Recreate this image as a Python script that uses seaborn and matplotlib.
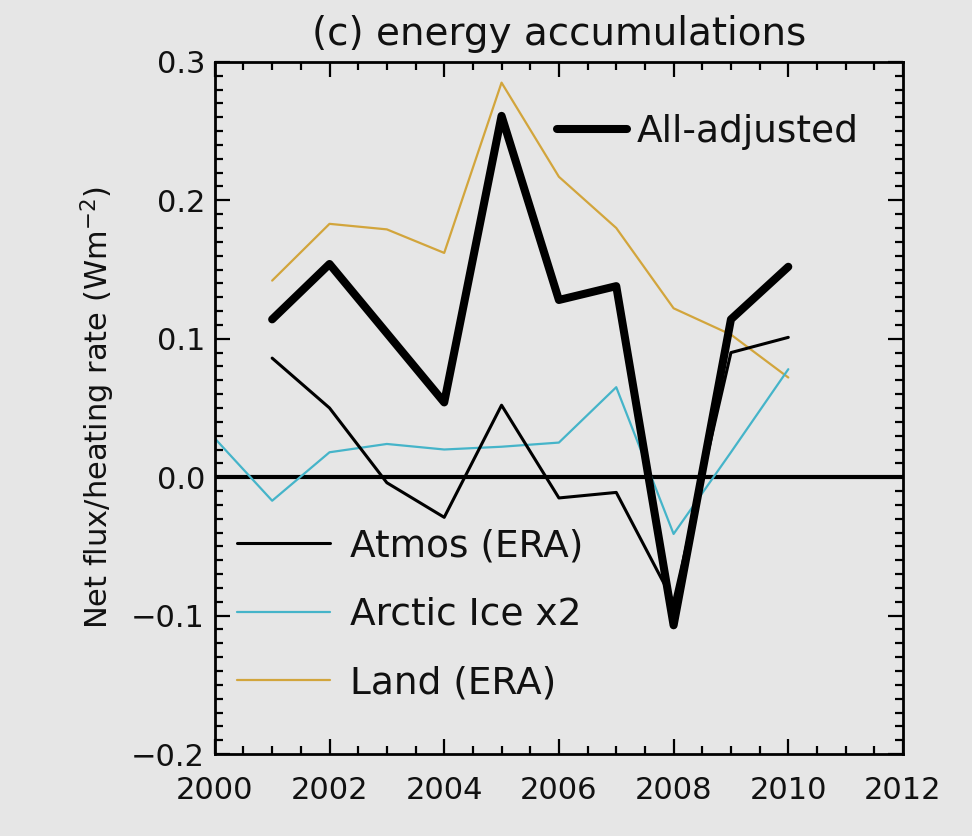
import numpy as np
import pandas as pd
import matplotlib
matplotlib.use("Agg")
import matplotlib.pyplot as plt
import seaborn as sns
from matplotlib.ticker import MultipleLocator

# ---- data ----
years = [2001, 2002, 2003, 2004, 2005, 2006, 2007, 2008, 2009, 2010]
all_adjusted = [0.114, 0.154, 0.104, 0.054, 0.261, 0.128, 0.138, -0.107, 0.114, 0.152]
atmos_era = [0.086, 0.050, -0.004, -0.029, 0.052, -0.015, -0.011, -0.090, 0.090, 0.101]
ice_years = [2000, 2001, 2002, 2003, 2004, 2005, 2006, 2007, 2008, 2009, 2010]
arctic_ice_x2 = [0.028, -0.017, 0.018, 0.024, 0.020, 0.022, 0.025, 0.065, -0.041, 0.018, 0.078]
land_era = [0.142, 0.183, 0.179, 0.162, 0.285, 0.217, 0.180, 0.122, 0.103, 0.072]

xticks = [2000, 2002, 2004, 2006, 2008, 2010, 2012]
yticks = [-0.2, -0.1, 0.0, 0.1, 0.2, 0.3]
ytick_labels = ["\u22120.2", "\u22120.1", "0.0", "0.1", "0.2", "0.3"]

BG = "#e6e6e6"
CYAN = "#45b4c9"
GOLD = "#d2a53c"
TXT = "#111111"

sns.set_theme(style="ticks")
plt.rcParams["font.family"] = ["DejaVu Sans"]
plt.rcParams["text.color"] = TXT
plt.rcParams["axes.labelcolor"] = TXT

fig = plt.figure(figsize=(9.72, 8.36), dpi=100, facecolor=BG)
ax = fig.add_axes([0.221, 0.098, 0.708, 0.828])
ax.set_facecolor(BG)

ax.axhline(0.0, color="black", lw=3.0, zorder=1)

sns.lineplot(x=years, y=land_era, ax=ax, color=GOLD, lw=1.6, legend=False, zorder=2)
sns.lineplot(x=ice_years, y=arctic_ice_x2, ax=ax, color=CYAN, lw=1.6, legend=False, zorder=2)
sns.lineplot(x=years, y=atmos_era, ax=ax, color="black", lw=2.2, legend=False, zorder=3)
sns.lineplot(x=years, y=all_adjusted, ax=ax, color="black", lw=5.8, legend=False, zorder=4)

ax.set_xlim(2000, 2012)
ax.set_ylim(-0.2, 0.3)
ax.set_xticks(xticks)
ax.set_xticklabels([str(t) for t in xticks])
ax.set_yticks(yticks)
ax.set_yticklabels(ytick_labels)
ax.xaxis.set_minor_locator(MultipleLocator(0.5))
ax.yaxis.set_minor_locator(MultipleLocator(0.01))
ax.tick_params(which="both", direction="in", top=True, right=True, width=1.6,
               color="black", labelcolor=TXT)
ax.tick_params(which="major", length=11, labelsize=22, pad=7)
ax.tick_params(axis="x", which="major", pad=16)
ax.tick_params(which="minor", length=5.5)
for s in ax.spines.values():
    s.set_linewidth(2.0)
    s.set_color("black")

ax.set_title("(c) energy accumulations", fontsize=28, pad=12)
ax.set_ylabel("Net flux/heating rate (Wm$^{-2}$)", fontsize=22)
ax.yaxis.set_label_coords(-0.142, 0.5)

lines = ax.get_lines()
# lines[0]=zero, [1]=land, [2]=ice, [3]=atmos, [4]=all
leg1 = ax.legend([lines[4]], ["All-adjusted"], loc="center left",
                 bbox_to_anchor=(0.497, 0.899), frameon=False, fontsize=27,
                 handlelength=1.87, handletextpad=0.27, borderpad=0, borderaxespad=0)
ax.add_artist(leg1)
ax.legend([lines[3], lines[2], lines[1]], ["Atmos (ERA)", "Arctic Ice x2", "Land (ERA)"],
          loc="center left", bbox_to_anchor=(0.032, 0.201), frameon=False, fontsize=27,
          handlelength=2.48, handletextpad=0.53, labelspacing=0.87, borderpad=0, borderaxespad=0)

fig.savefig("out.png", dpi=100, facecolor=BG)
